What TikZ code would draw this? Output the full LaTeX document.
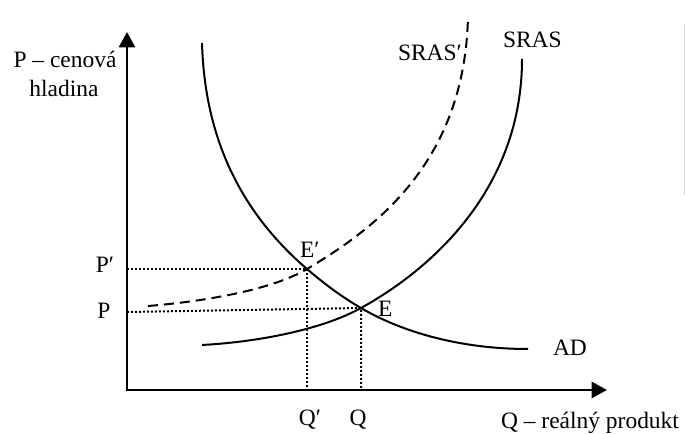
\documentclass[tikz,border=0pt]{standalone}
\usepackage{fontspec}
\setmainfont{Liberation Serif}
\usepackage{tikz}
\usetikzlibrary{arrows.meta}
\definecolor{ink}{HTML}{000000}
\definecolor{edge}{HTML}{D9D9D9}
\tikzset{
  axisline/.style   = {draw=ink, line width=2pt, line join=miter,
                       {Triangle[length=11.5pt,width=12pt]}-{Triangle[length=11.5pt,width=12pt]}},
  solidcurve/.style = {draw=ink, line width=1.5pt},
  dashcurve/.style  = {draw=ink, line width=1.5pt, dash pattern=on 7.5pt off 4.5pt},
  guideline/.style  = {draw=ink, line width=1.5pt, dash pattern=on 1.5pt off 1.5pt},
  lab/.style        = {font=\fontsize{17.6}{21}\selectfont, text=ink, inner sep=0pt, outer sep=0pt},
}

\begin{document}
\begin{tikzpicture}[x=0.75pt,y=-0.75pt]
\path[use as bounding box] (0,0) rectangle (685,434);

% ---- axes ---------------------------------------------------------------
\coordinate (O)    at (127,390);
\coordinate (ytip) at (127,32);
\coordinate (xtip) at (607,390);
\draw[axisline] (ytip) -- (O) -- (xtip);

\node[lab, anchor=base] (pcen) at (65,68)  {P – cenová};
\node[lab, anchor=base] (hlad) at (64,97)  {hladina};
\node[lab, anchor=base] (qrea) at (590,428) {Q – reálný produkt};

% ---- equilibria ---------------------------------------------------------
\coordinate (Ep) at (307,269);
\coordinate (E)  at (361,308);
\coordinate (Ppax) at (127,269);
\coordinate (Pax)  at (127,312);
\coordinate (Qpax) at (307,390);
\coordinate (Qax)  at (361,390);

\draw[guideline] (Ppax) -- (Ep) -- (Qpax);
\draw[guideline] (Pax) -- (E) -- (Qax);

% ---- curves -------------------------------------------------------------
% AD
\draw[solidcurve] (202,43) .. controls (205,150) and (250,220) .. (Ep)
  .. controls (325,284.5) and (343,297.6) .. (E)
  .. controls (402,332) and (460,349) .. (528,349);
% SRAS
\draw[solidcurve] (202,345) .. controls (257,342) and (321,330) .. (E)
  .. controls (430,270) and (522,190) .. (522,59);
% SRAS'
\draw[dashcurve] (148,306) .. controls (198,302) and (270,291) .. (Ep)
  .. controls (372,230) and (465,165) .. (468,16);

% ---- labels -------------------------------------------------------------
\node[lab, anchor=base] (Pplab) at (105,273) {P′};
\node[lab, anchor=base] (Plab)  at (104,319) {P};
\node[lab, anchor=base] (Qplab) at (310,425) {Q′};
\node[lab, anchor=base] (Qlab)  at (358,425) {Q};
\node[lab, anchor=base west] (sraspl) at (398,61)  {SRAS′};
\node[lab, anchor=base west] (srasl)  at (503,48)  {SRAS};
\node[lab, anchor=base west] (Eplab)  at (300,258) {E′};
\node[lab, anchor=base west] (Elab)   at (378,317) {E};
\node[lab, anchor=base west] (adlab)  at (553,356) {AD};

% faint rule at the right edge
\draw[edge, line width=0.75pt] (684,24) -- (684,195);

\end{tikzpicture}
\end{document}
